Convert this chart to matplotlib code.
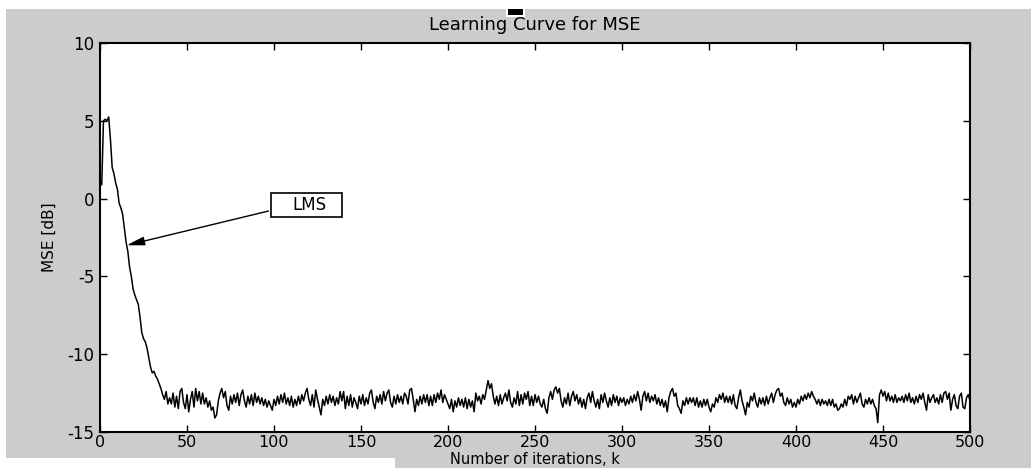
import matplotlib
matplotlib.use("Agg")
import matplotlib.pyplot as plt
from matplotlib.patches import Rectangle

# MSE learning curve values, iteration k = 1..500
transient_mse = [
    0.9, 5.0, 5.1, 5.0, 5.25, 3.8, 2.0, 1.6, 1.0, 0.6,
    -0.3, -0.6, -1.0, -1.9, -2.8, -3.4, -4.4, -5.0, -5.8, -6.2,
    -6.5, -6.8, -7.6, -8.6, -9.0, -9.2, -9.6, -10.2, -10.8, -11.2,
    -11.1, -11.4, -11.6, -11.9, -12.2, -12.6, -12.9, -12.4, -13.2, -12.8,
]

steady_mse = [
    -13.2, -12.5, -13.4, -12.7, -13.5, -12.4, -12.2, -13.1, -13.5, -12.6, -13.7, -12.9, -12.4, -13.4, -12.2, -13.0, -12.4, -13.2, -12.5, -13.2,
    -12.8, -13.4, -13.0, -13.6, -13.4, -14.1, -13.9, -13.0, -12.5, -12.2, -12.8, -12.4, -13.3, -13.6, -12.7, -13.2, -12.6, -13.1, -12.5, -13.3,
    -12.6, -12.3, -13.0, -13.4, -12.7, -13.2, -12.6, -13.3, -12.5, -13.1, -12.7, -13.2, -12.8, -13.3, -12.9, -13.4, -13.0, -13.3, -13.6, -12.9,
    -13.3, -12.7, -13.2, -12.6, -13.1, -12.5, -13.2, -12.8, -13.3, -12.7, -13.4, -12.9, -13.3, -12.7, -13.2, -12.6, -13.0, -12.5, -12.2, -12.9,
    -13.3, -12.6, -13.4, -12.3, -12.9, -13.4, -13.9, -12.9, -13.3, -12.7, -13.2, -12.6, -13.1, -12.7, -13.3, -12.8, -13.2, -12.4, -13.0, -12.4,
    -13.5, -12.7, -13.3, -12.6, -13.4, -12.8, -13.1, -13.5, -12.7, -13.2, -12.6, -13.3, -12.8, -13.2, -12.5, -12.3, -13.1, -13.5, -12.7, -13.1,
    -12.6, -13.2, -12.4, -13.0, -12.5, -12.3, -13.1, -13.4, -12.7, -13.2, -12.6, -13.1, -12.7, -13.2, -12.5, -12.7, -13.2, -12.3, -12.2, -12.9,
    -13.7, -12.9, -13.3, -12.7, -13.2, -12.6, -13.1, -12.6, -13.3, -12.7, -13.3, -12.6, -13.1, -12.5, -12.9, -12.3, -13.1, -12.6, -12.9, -13.2,
    -13.5, -12.9, -13.7, -13.0, -13.4, -12.8, -13.3, -12.9, -13.4, -12.8, -13.5, -12.9, -13.4, -13.0, -13.7, -12.5, -13.0, -12.7, -13.2, -12.6,
    -12.9, -12.3, -11.7, -12.2, -11.9, -12.7, -13.2, -12.7, -13.3, -12.6, -13.2, -12.8, -12.5, -13.0, -12.3, -13.1, -13.4, -12.8, -13.2, -12.4,
    -13.3, -12.6, -13.2, -12.5, -12.9, -12.4, -13.3, -12.7, -13.3, -12.6, -13.1, -12.7, -13.2, -13.4, -12.9, -13.5, -13.8, -12.8, -12.4, -12.9,
    -12.3, -12.1, -12.5, -12.2, -13.0, -13.4, -12.8, -13.2, -12.5, -13.3, -12.7, -12.4, -13.0, -12.6, -13.2, -12.8, -13.4, -12.9, -13.5, -12.8,
    -12.5, -13.1, -12.4, -13.0, -13.4, -12.9, -13.5, -12.6, -13.1, -12.5, -13.0, -13.4, -12.8, -13.3, -12.6, -13.1, -12.7, -13.3, -12.8, -13.1,
    -12.8, -13.3, -12.9, -13.2, -12.7, -13.1, -12.6, -13.0, -12.4, -12.9, -13.6, -12.7, -12.4, -13.0, -12.5, -13.1, -12.7, -13.0, -12.6, -13.2,
    -12.8, -13.3, -12.9, -13.4, -13.0, -13.7, -12.8, -12.4, -12.2, -12.7, -12.5, -13.3, -13.5, -13.8, -13.0, -13.3, -12.8, -13.2, -12.8, -13.1,
    -12.8, -13.3, -12.8, -13.4, -13.0, -13.4, -12.9, -13.3, -12.9, -13.4, -13.7, -13.2, -13.4, -12.8, -13.1, -12.6, -12.9, -12.5, -13.1, -12.7,
    -13.1, -12.7, -13.2, -12.6, -13.3, -13.5, -12.8, -12.3, -13.0, -13.4, -13.9, -13.1, -13.4, -12.7, -13.0, -12.5, -13.1, -13.4, -12.8, -13.2,
    -12.8, -13.3, -12.7, -13.2, -12.8, -12.5, -13.1, -12.6, -12.3, -12.2, -12.7, -12.5, -13.1, -13.3, -12.8, -13.2, -12.9, -13.4, -13.1, -13.4,
    -12.9, -13.2, -12.7, -13.0, -12.6, -12.9, -12.5, -12.8, -12.4, -12.7, -12.9, -13.2, -12.9, -13.3, -12.9, -13.2, -13.0, -13.3, -12.9, -13.3,
    -12.9, -13.4, -13.2, -13.6, -13.5, -13.2, -13.4, -12.9, -13.3, -12.7, -12.9, -12.6, -13.2, -12.7, -13.1, -12.8, -12.5, -13.2, -13.4, -12.9,
    -13.2, -12.8, -13.2, -12.9, -13.3, -13.5, -14.4, -12.6, -12.3, -12.7, -12.4, -13.0, -12.5, -13.0, -12.7, -13.1, -12.6, -13.1, -12.8, -13.0,
    -12.7, -13.1, -12.6, -13.0, -12.5, -13.1, -12.8, -13.2, -12.7, -13.1, -12.6, -12.9, -12.5, -13.1, -13.6, -12.6, -13.1, -12.8, -12.6, -13.1,
    -12.8, -13.2, -12.6, -13.1, -12.5, -12.4, -12.9, -12.5, -13.6, -12.9, -12.6, -13.3, -13.5, -12.7, -12.5, -13.4, -13.5, -12.8, -12.6, -13.0,
]

mse_db = transient_mse + steady_mse
iterations = list(range(1, len(mse_db) + 1))

x_ticks = [0, 50, 100, 150, 200, 250, 300, 350, 400, 450, 500]
y_ticks = [-15, -10, -5, 0, 5, 10]

plt.rcParams["font.family"] = ["DejaVu Sans"]
plt.rcParams["font.size"] = 12
plt.rcParams["axes.unicode_minus"] = False

grey = "#cccccc"
fig = plt.figure(figsize=(10.31, 4.68), dpi=100, facecolor=grey)
ax = fig.add_axes([100 / 1031, 1 - 432 / 468, 870 / 1031, 389 / 468])

ax.plot(iterations, mse_db, color="black", linewidth=1.1)

ax.set_xlim(0, 500)
ax.set_ylim(-15, 10)
ax.set_xticks(x_ticks)
ax.set_yticks(y_ticks)
ax.tick_params(direction="in", length=5, width=1, top=True, right=True,
               labelsize=12, pad=4)
ax.tick_params(axis="x", labelsize=11.5, pad=2)
for spine in ax.spines.values():
    spine.set_linewidth(1.5)

ax.set_title("Learning Curve for MSE", fontsize=13, pad=9)
ax.set_xlabel("Number of iterations, k", fontsize=10.5, va="bottom")
ax.xaxis.set_label_coords(0.5, -(467.5 - 432) / 389)
ax.set_ylabel("MSE [dB]", fontsize=11, labelpad=8)

# "LMS" label box with an arrow pointing at the curve
ax.add_patch(Rectangle((98.3, -1.18), 40.8, 1.54, facecolor="white",
                       edgecolor="black", linewidth=1.2, zorder=3))
ax.text(120.5, -0.41, "LMS", ha="center", va="center", fontsize=12, zorder=4)
ax.annotate("", xy=(15.3, -3.0), xytext=(96.8, -0.8),
            arrowprops=dict(arrowstyle="-|>,head_length=0.9,head_width=0.22",
                            color="black", linewidth=1, shrinkA=0, shrinkB=0))

# white margins and the small marker above the title, as in the screenshot
def fig_rect(x0, y0, w, h, color):
    fig.patches.append(Rectangle((x0 / 1031, 1 - (y0 + h) / 468), w / 1031, h / 468,
                                 transform=fig.transFigure, facecolor=color,
                                 edgecolor="none", zorder=10))

fig_rect(0, 0, 1031, 9, "white")
fig_rect(0, 0, 6, 468, "white")
fig_rect(0, 458, 395, 10, "white")
fig_rect(506, 7, 19, 10, "white")
fig_rect(508, 9, 15, 6, "black")

fig.savefig("out.png", dpi=100, facecolor=grey)
